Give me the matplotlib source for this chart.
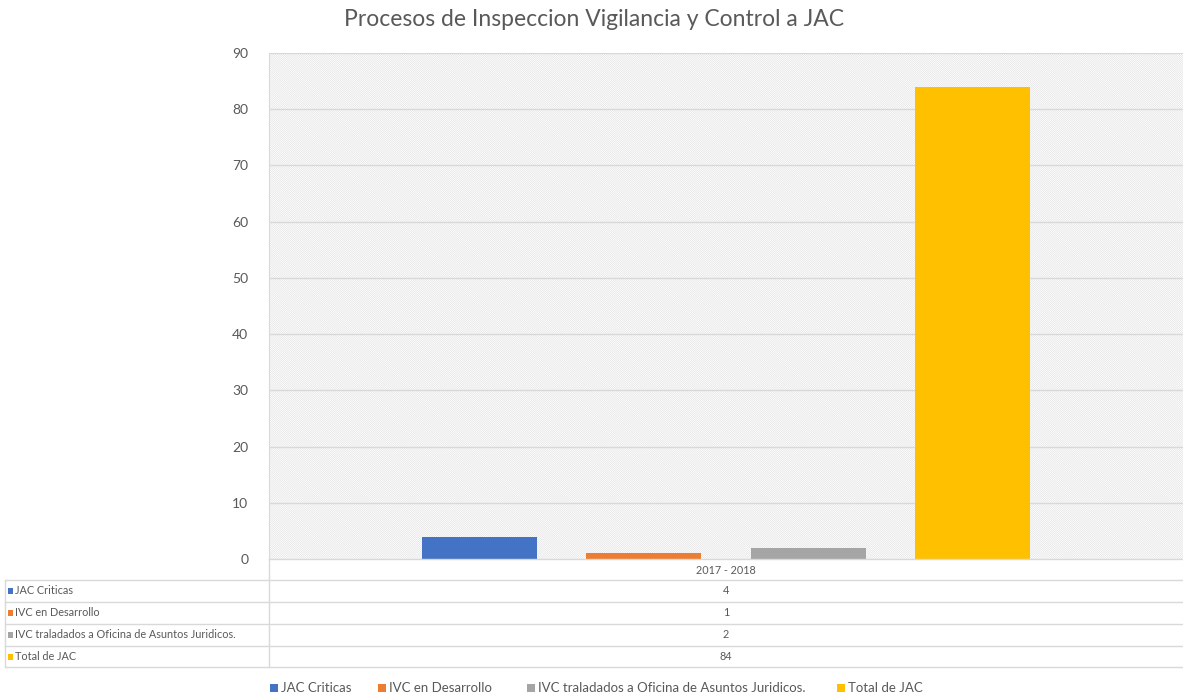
import matplotlib
matplotlib.use("Agg")
import matplotlib.pyplot as plt
from matplotlib.patches import Rectangle
from matplotlib.lines import Line2D

plt.rcParams['font.family'] = ['Lato', 'DejaVu Sans']
plt.rcParams['hatch.linewidth'] = 0.35

title = "Procesos de Inspeccion Vigilancia y Control a JAC"
category = "2017 - 2018"
series = ["JAC Criticas", "IVC en Desarrollo",
          "IVC traladados a Oficina de Asuntos Juridicos.", "Total de JAC"]
values = [4, 1, 2, 84]
colors = ["#4472C4", "#ED7D31", "#A5A5A5", "#FFC000"]
yticks = [0, 10, 20, 30, 40, 50, 60, 70, 80, 90]

W, H = 1183, 700
fig = plt.figure(figsize=(W / 100, H / 100), dpi=100)
fig.patch.set_facecolor("white")

def fx(px):
    return px / W

def fy(py):
    return 1 - py / H

ax_l, ax_r, ax_t, ax_b = 269, 1183, 53, 559
ax = fig.add_axes([fx(ax_l), fy(ax_b), fx(ax_r - ax_l), (ax_b - ax_t) / H])

# hatched background
ax.add_patch(Rectangle((0, 0), 1, 1, transform=ax.transAxes, facecolor="white",
                       edgecolor="#d8d8d8", hatch="\\" * 16, linewidth=0, zorder=0))

n = len(values)
step = 0.18
width = 0.126
for i, (v, c) in enumerate(zip(values, colors)):
    ax.bar((i - (n - 1) / 2) * step, v, width=width, color=c, zorder=3, label=series[i])

ax.set_xlim(-0.5, 0.5)
ax.set_ylim(0, 90)
ax.set_yticks(yticks)
ax.set_xticks([])
for y in yticks[1:]:
    ax.axhline(y, color="#d9d9d9", linewidth=1.0, zorder=1)
for s in ["top", "right", "bottom"]:
    ax.spines[s].set_visible(False)
ax.spines["left"].set_color("#d9d9d9")
ax.tick_params(axis="y", length=0, pad=15, labelsize=10, labelcolor="#595959")
ax.set_facecolor("white")

fig.text(fx(594), fy(20), title, ha="center", va="center", fontsize=16.5, color="#595959")

# data table
line_c = "#d9d9d9"
row_lines = [580, 602, 624, 646, 667]
tl, tr = 5, 1183
fig.add_artist(Line2D([fx(ax_l), fx(tr)], [fy(ax_b), fy(ax_b)], color="#d9d9d9", lw=1.0))
for ry in row_lines:
    fig.add_artist(Line2D([fx(tl), fx(tr)], [fy(ry), fy(ry)], color=line_c, lw=1.0))
fig.add_artist(Line2D([fx(ax_l), fx(ax_l)], [fy(ax_b), fy(row_lines[-1])], color=line_c, lw=1.0))
fig.add_artist(Line2D([fx(tl), fx(tl)], [fy(row_lines[0]), fy(row_lines[-1])], color=line_c, lw=1.0))

cx = (ax_l + ax_r) / 2
fig.text(fx(cx), fy(570), category, ha="center", va="center", fontsize=7.8, color="#595959")
for i in range(n):
    yc = (row_lines[i] + row_lines[i + 1]) / 2
    fig.add_artist(Rectangle((fx(8), fy(yc + 3)), 5 / W, 6 / H, transform=fig.transFigure,
                             facecolor=colors[i], edgecolor="none"))
    fig.text(fx(15), fy(yc), series[i], ha="left", va="center", fontsize=7.8, color="#595959")
    fig.text(fx(cx), fy(yc), str(values[i]), ha="center", va="center", fontsize=7.8, color="#595959")

# legend (entries placed individually)
leg_x = [270, 378, 527, 837]
leg_y = 688
for i in range(n):
    fig.add_artist(Rectangle((fx(leg_x[i]), fy(leg_y + 4)), 8 / W, 8 / H, transform=fig.transFigure,
                             facecolor=colors[i], edgecolor="none"))
    fig.text(fx(leg_x[i] + 11), fy(leg_y), series[i], ha="left", va="center",
             fontsize=9.5, color="#595959")

fig.savefig("out.png", dpi=100, facecolor="white")
